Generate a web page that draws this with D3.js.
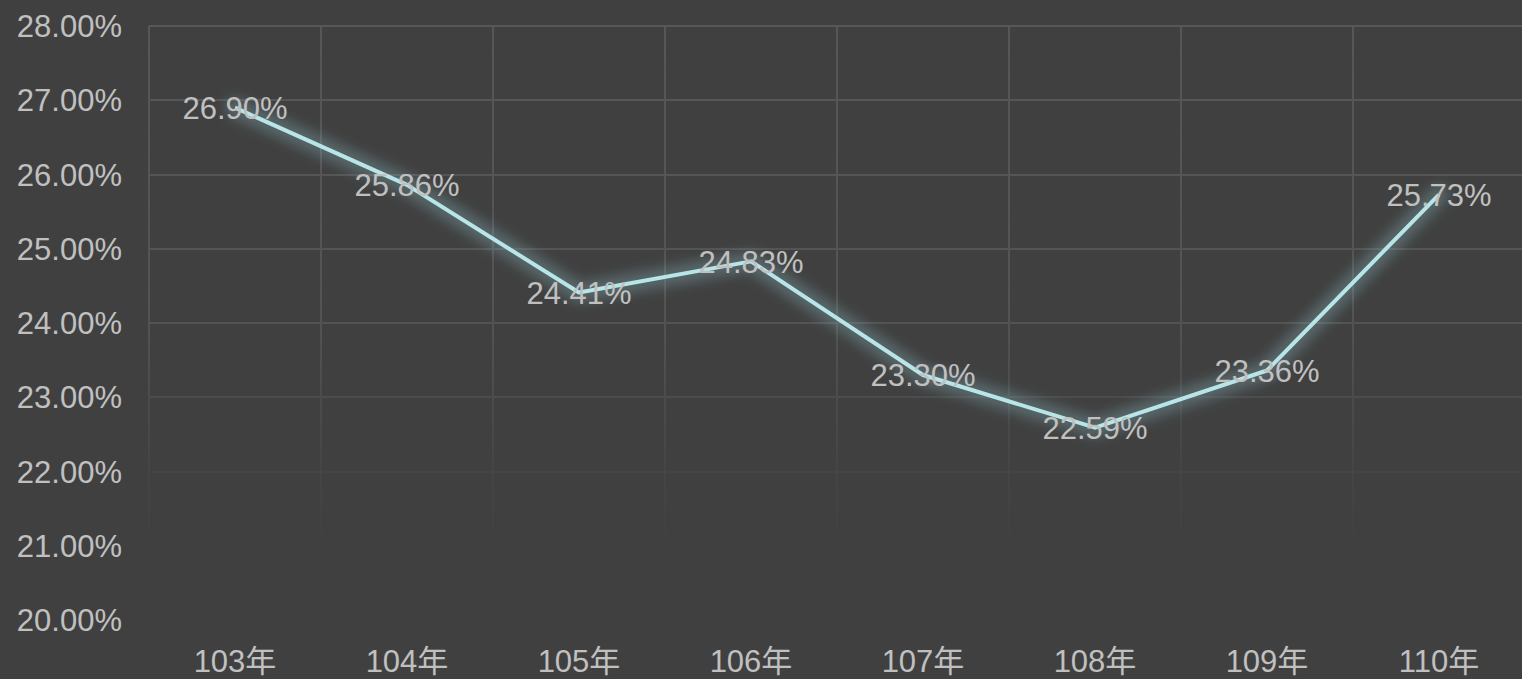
<!DOCTYPE html>
<html>
<head>
<meta charset="utf-8">
<script src="https://cdn.jsdelivr.net/npm/d3@7"></script>
<style>
  html, body { margin: 0; padding: 0; background: #404040; overflow: hidden; }
  svg { display: block; }
</style>
</head>
<body>
<div id="chart"></div>
<script>
// chart data
const years = ["103年", "104年", "105年", "106年", "107年", "108年", "109年", "110年"];
const rates = [26.90, 25.86, 24.41, 24.83, 23.30, 22.59, 23.36, 25.73];
const yTicks = [20, 21, 22, 23, 24, 25, 26, 27, 28];

function drawChart() {
    const width = 1522, height = 679;
    const plot = {left: 149, right: 1525, top: 26, bottom: 620};

    const svg = d3.select("#chart")
        .append("svg")
        .attr("width", width)
        .attr("height", height);

    svg.append("rect")
        .attr("width", width)
        .attr("height", height)
        .attr("fill", "#404040");

    const defs = svg.append("defs");

    // fade of gridlines toward the bottom
    const grad = defs.append("linearGradient")
        .attr("id", "fade")
        .attr("gradientUnits", "userSpaceOnUse")
        .attr("x1", 0).attr("x2", 0)
        .attr("y1", plot.top).attr("y2", 555);
    grad.append("stop").attr("offset", "0").attr("stop-color", "#fff").attr("stop-opacity", 1);
    grad.append("stop").attr("offset", "0.55").attr("stop-color", "#fff").attr("stop-opacity", 0.85);
    grad.append("stop").attr("offset", "0.8").attr("stop-color", "#fff").attr("stop-opacity", 0.3);
    grad.append("stop").attr("offset", "1").attr("stop-color", "#fff").attr("stop-opacity", 0);

    defs.append("mask")
        .attr("id", "gridMask")
        .append("rect")
        .attr("x", 0).attr("y", 0)
        .attr("width", width).attr("height", height)
        .attr("fill", "url(#fade)");

    defs.append("filter")
        .attr("id", "glow")
        .attr("x", "-10%").attr("y", "-20%")
        .attr("width", "120%").attr("height", "140%")
        .append("feGaussianBlur")
        .attr("stdDeviation", 6);

    // scales
    const x = d3.scaleBand()
        .domain(years)
        .range([plot.left, plot.right]);

    const y = d3.scaleLinear()
        .domain([20, 28])
        .range([plot.bottom, plot.top]);

    const font = "'Liberation Sans', Arial, 'Noto Sans CJK TC', sans-serif";
    const textColor = "#c0c0c0";

    // grid
    const grid = svg.append("g")
        .attr("mask", "url(#gridMask)")
        .attr("stroke", "#575757")
        .attr("stroke-width", 1.5)
        .attr("shape-rendering", "crispEdges");

    grid.selectAll(".hgrid")
        .data(yTicks.filter(d => d > 20))
        .enter()
        .append("line")
        .attr("x1", plot.left)
        .attr("x2", plot.right)
        .attr("y1", d => Math.round(y(d)))
        .attr("y2", d => Math.round(y(d)));

    const vgrid = years.map(d => x(d)).concat([plot.right]);
    grid.selectAll(".vgrid")
        .data(vgrid)
        .enter()
        .append("line")
        .attr("x1", d => Math.round(d))
        .attr("x2", d => Math.round(d))
        .attr("y1", plot.top)
        .attr("y2", 555);

    // y axis labels
    svg.selectAll(".ylab")
        .data(yTicks)
        .enter()
        .append("text")
        .attr("x", 122)
        .attr("y", d => y(d))
        .attr("dy", "0.36em")
        .attr("text-anchor", "end")
        .style("font-family", font)
        .style("font-size", "31px")
        .style("fill", textColor)
        .text(d => d.toFixed(2) + "%");

    // x axis labels
    svg.selectAll(".xlab")
        .data(years)
        .enter()
        .append("text")
        .attr("x", d => x(d) + x.bandwidth() / 2)
        .attr("y", 672)
        .attr("text-anchor", "middle")
        .style("font-family", font)
        .style("font-size", "31px")
        .style("fill", textColor)
        .text(d => d);

    const line = d3.line()
        .x((d, i) => x(years[i]) + x.bandwidth() / 2)
        .y(d => y(d));

    // glow
    svg.append("path")
        .datum(rates)
        .attr("fill", "none")
        .attr("stroke", "#80b0b4")
        .attr("stroke-opacity", 0.35)
        .attr("stroke-width", 20)
        .attr("stroke-linejoin", "round")
        .attr("stroke-linecap", "round")
        .attr("filter", "url(#glow)")
        .attr("d", line);

    // main line
    svg.append("path")
        .datum(rates)
        .attr("fill", "none")
        .attr("stroke", "#b8e5e8")
        .attr("stroke-width", 4)
        .attr("stroke-linejoin", "round")
        .attr("d", line);

    // value labels
    svg.selectAll(".vlab")
        .data(rates)
        .enter()
        .append("text")
        .attr("x", (d, i) => x(years[i]) + x.bandwidth() / 2)
        .attr("y", d => y(d))
        .attr("dy", "0.36em")
        .attr("text-anchor", "middle")
        .style("font-family", font)
        .style("font-size", "31px")
        .style("fill", textColor)
        .text(d => d.toFixed(2) + "%");
}

drawChart();
</script>
</body>
</html>
